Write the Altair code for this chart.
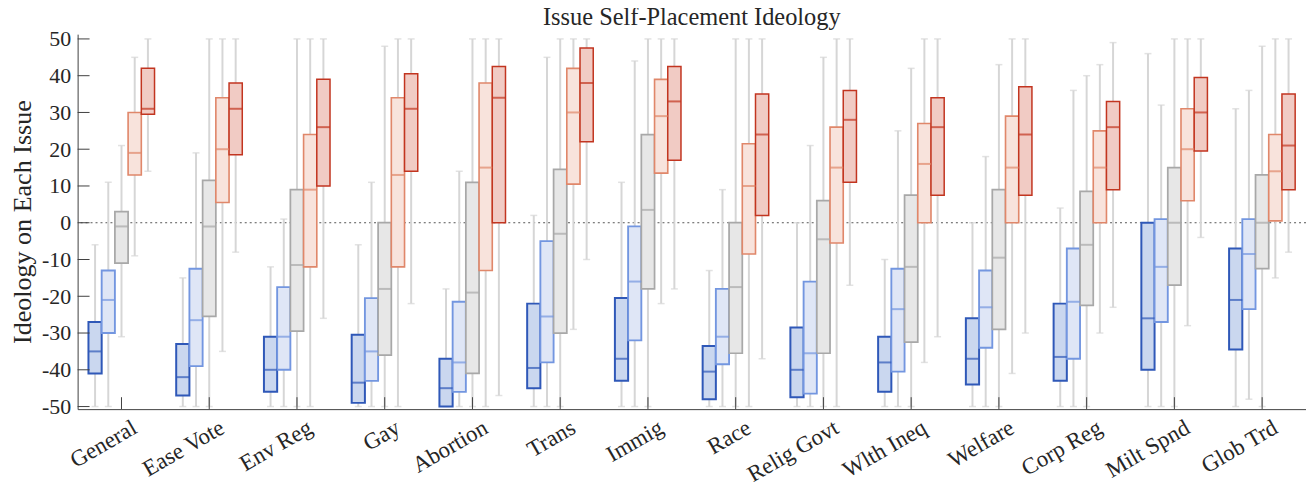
import altair as alt
import pandas as pd

categories = ["General", "Ease Vote", "Env Reg", "Gay", "Abortion", "Trans", "Immig",
              "Race", "Relig Govt", "Wlth Ineq", "Welfare", "Corp Reg", "Milt Spnd", "Glob Trd"]
groups = ["Strong Liberal", "Lean Liberal", "Moderate", "Lean Conservative", "Strong Conservative"]

# per group: whisker low, q1, median, q3, whisker high (one value per category)
strong_lib_lo = [-50, -50, -50, -50, -50, -50, -50, -50, -50, -50, -50, -50, -50, -50]
strong_lib_q1 = [-41, -47, -46, -49, -50, -45, -43, -48, -47.5, -46, -44, -43, -40, -34.5]
strong_lib_med = [-35, -42, -40, -43.5, -45, -39.5, -37, -40.5, -40, -38, -37, -36.5, -26, -21]
strong_lib_q3 = [-27, -33, -31, -30.5, -37, -22, -20.5, -33.5, -28.5, -31, -26, -22, 0, -7]
strong_lib_hi = [-6, -15, -12, -6, -18, 2, 11, -13, 0, -10, 0, 4, 46, 31]

lean_lib_lo = [-50, -50, -50, -50, -50, -50, -50, -50, -50, -50, -50, -50, -50, -48]
lean_lib_q1 = [-30, -39, -40, -43, -46, -38, -32, -38.5, -46.5, -40.5, -34, -37, -27, -23.5]
lean_lib_med = [-21, -26.5, -31, -35, -38, -25.5, -16, -31, -35.5, -23.5, -23, -21.5, -12, -8.5]
lean_lib_q3 = [-13, -12.5, -17.5, -20.5, -21.5, -5, -1, -18, -16, -12.5, -13, -7, 1, 1]
lean_lib_hi = [11, 19, 1, 11, 14, 45, 44, 9, 21, 25, 18, 36, 32, 36]

moderate_lo = [-31, -50, -50, -50, -50, -50, -50, -50, -50, -50, -50, -50, -50, -50]
moderate_q1 = [-11, -25.5, -29.5, -36, -41, -30, -18, -35.5, -35.5, -32.5, -29, -22.5, -17, -12.5]
moderate_med = [-1, -1, -11.5, -18, -19, -3, 3.5, -17.5, -4.5, -12, -9.5, -6, 0, 0]
moderate_q3 = [3, 11.5, 9, 0, 11, 14.5, 24, 0, 6, 7.5, 9, 8.5, 15, 13]
moderate_hi = [21, 50, 50, 48, 50, 50, 50, 50, 45, 42, 43, 40, 50, 48]

lean_con_lo = [-9, -35, -50, -50, -50, -29, -22, -50, -50, -38, -41, -30, -28, -15]
lean_con_q1 = [13, 5.5, -12, -12, -13, 10.5, 13.5, -8.5, -5.5, 0, 0, 0, 6, 0.5]
lean_con_med = [19, 20, 9, 13, 15, 30, 29, 10, 15, 16, 15, 15, 20, 14]
lean_con_q3 = [30, 34, 24, 34, 38, 42, 39, 21.5, 26, 27, 29, 25, 31, 24]
lean_con_hi = [45, 50, 50, 50, 50, 50, 50, 50, 50, 50, 50, 43, 50, 50]

strong_con_lo = [14, -8, -26, -22, -47, -10, -18, -37, -17, -31, -30, -23, -4, -8]
strong_con_q1 = [29.5, 18.5, 10, 14, 0, 22, 17, 2, 11, 7.5, 7.5, 9, 19.5, 9]
strong_con_med = [31, 31, 26, 31, 34, 38, 33, 24, 28, 26, 24, 26, 30, 21]
strong_con_q3 = [42, 38, 39, 40.5, 42.5, 47.5, 42.5, 35, 36, 34, 37, 33, 39.5, 35]
strong_con_hi = [50, 50, 50, 50, 50, 50, 50, 50, 50, 50, 50, 49, 50, 50]

y_ticks = [-50, -40, -30, -20, -10, 0, 10, 20, 30, 40, 50]
zero_line = [0]

fills = ["#cad7ef", "#dfe6f6", "#e7e7e7", "#f8e3dc", "#f1cbc4"]
strokes = ["#2f58b8", "#7396e0", "#a8a8a8", "#e0876a", "#c23520"]
widths = [2, 1.5, 1.5, 1.5, 2]

series = {
    groups[0]: (strong_lib_lo, strong_lib_q1, strong_lib_med, strong_lib_q3, strong_lib_hi),
    groups[1]: (lean_lib_lo, lean_lib_q1, lean_lib_med, lean_lib_q3, lean_lib_hi),
    groups[2]: (moderate_lo, moderate_q1, moderate_med, moderate_q3, moderate_hi),
    groups[3]: (lean_con_lo, lean_con_q1, lean_con_med, lean_con_q3, lean_con_hi),
    groups[4]: (strong_con_lo, strong_con_q1, strong_con_med, strong_con_q3, strong_con_hi),
}
rows = []
for g, (lo, q1, med, q3, hi) in series.items():
    for i, c in enumerate(categories):
        rows.append({"cat": c, "grp": g, "lo": lo[i], "q1": q1[i], "med": med[i], "q3": q3[i], "hi": hi[i]})
df = pd.DataFrame(rows)

W, H = 1235, 377
FONT = "Liberation Serif"

yscale = alt.Scale(domain=[-50.7, 51.3], nice=False, zero=False)
xscale = alt.Scale(domain=categories, paddingInner=0, paddingOuter=0)
xoff = alt.XOffset("grp:N", sort=groups, scale=alt.Scale(domain=groups, paddingInner=0, paddingOuter=0.82))

xenc = alt.X("cat:N", sort=categories, scale=xscale,
             axis=alt.Axis(title=None, ticks=False, tickSize=0, labelAngle=330, labelAlign="right",
                           labelBaseline="top", labelPadding=7, labelOffset=8, labelFont=FONT,
                           labelFontSize=23, labelColor="#262626", domainColor="#404040",
                           domainWidth=1, grid=False))
yaxis = alt.Axis(title="Ideology on Each Issue", values=y_ticks, ticks=False, tickSize=0,
                 labelExpr="toString(datum.value)", labelFont=FONT, labelFontSize=22,
                 labelColor="#262626", labelPadding=7, domainColor="#404040", domainWidth=1,
                 grid=False, titleFont=FONT, titleFontSize=26.2, titleFontWeight="normal",
                 titleColor="#262626", titleAngle=270, titleAlign="center", titleBaseline="middle",
                 titleX=-55, titleY=H / 2)

base = alt.Chart(df)

zero = alt.Chart(pd.DataFrame({"v": zero_line})).mark_rule(
    color="#555555", strokeWidth=1, strokeDash=[2, 3]).encode(
    y=alt.Y("v:Q", scale=yscale, axis=yaxis))

whisk = base.mark_rule(color="#d6d6d6", strokeWidth=2).encode(
    x=xenc, xOffset=xoff, y=alt.Y("lo:Q", scale=yscale, axis=yaxis), y2="hi:Q")

cap_lo = base.mark_tick(color="#d6d6d6", size=7, thickness=1.5).encode(
    x=xenc, xOffset=xoff, y=alt.Y("lo:Q", scale=yscale, axis=yaxis))
cap_hi = base.mark_tick(color="#d6d6d6", size=7, thickness=1.5).encode(
    x=xenc, xOffset=xoff, y=alt.Y("hi:Q", scale=yscale, axis=yaxis))

boxes = base.mark_bar().encode(
    x=xenc, xOffset=xoff,
    y=alt.Y("q1:Q", scale=yscale, axis=yaxis), y2="q3:Q",
    fill=alt.Fill("grp:N", scale=alt.Scale(domain=groups, range=fills), legend=None),
    stroke=alt.Stroke("grp:N", scale=alt.Scale(domain=groups, range=strokes), legend=None),
    strokeWidth=alt.StrokeWidth("grp:N", scale=alt.Scale(domain=groups, range=widths), legend=None))

medians = base.mark_tick(size=13.3, thickness=2).encode(
    x=xenc, xOffset=xoff,
    y=alt.Y("med:Q", scale=yscale, axis=yaxis),
    color=alt.Color("grp:N", scale=alt.Scale(domain=groups, range=strokes), legend=None))

yticks = alt.Chart(pd.DataFrame({"v": y_ticks})).mark_rule(color="#404040", strokeWidth=1).encode(
    y=alt.Y("v:Q", scale=yscale, axis=yaxis), x=alt.value(0), x2=alt.value(12))

xticks = alt.Chart(pd.DataFrame({"cat": categories})).mark_rule(color="#404040", strokeWidth=1).encode(
    x=xenc, y=alt.value(H - 12), y2=alt.value(H))

chart = alt.layer(zero, whisk, cap_lo, cap_hi, boxes, medians, yticks, xticks).properties(
    width=W, height=H,
    title=alt.Title("Issue Self-Placement Ideology", font=FONT, fontSize=24.5, fontWeight="normal",
                    color="#262626", anchor="middle", offset=4, dy=6),
    autosize=alt.AutoSizeParams(type="none"),
    padding={"left": 70, "top": 25, "right": 0, "bottom": 77},
).configure_view(stroke=None).resolve_scale(fill="independent", stroke="independent")

chart.save("out.html", embed_options={"renderer": "svg", "actions": False})
